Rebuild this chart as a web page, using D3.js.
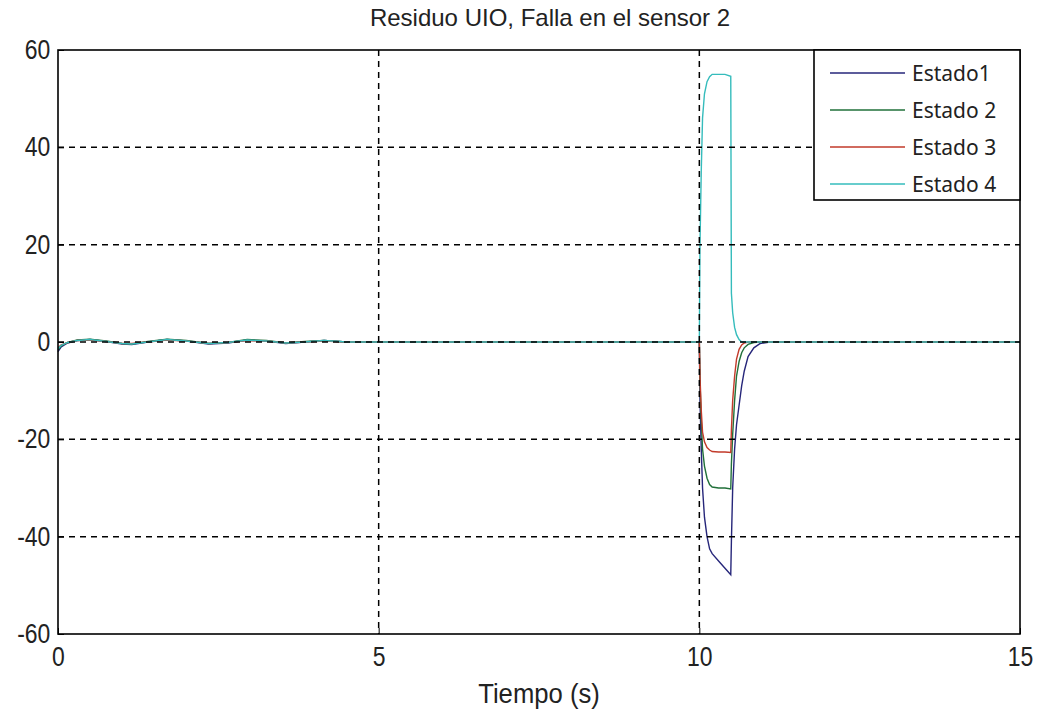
<!DOCTYPE html>
<html>
<head>
<meta charset="utf-8">
<script src="https://cdn.jsdelivr.net/npm/d3@7"></script>
<style>
  body { margin: 0; background: #fff; }
  svg { display: block; }
</style>
</head>
<body>
<div id="chart"></div>
<script>
// Residuo UIO
const tiempo = [0, 0.05, 0.15, 0.3, 0.5, 0.75, 1.0, 1.15, 1.4, 1.7, 2.0, 2.35, 2.65, 2.95, 3.25, 3.55, 3.85, 4.15, 4.5,
    5, 6, 7, 8, 9, 10.0, 10.01, 10.03, 10.05, 10.08, 10.12, 10.16, 10.2, 10.3, 10.4, 10.49, 10.5, 10.52, 10.55,
    10.58, 10.62, 10.66, 10.7, 10.76, 10.85, 10.95, 11.1, 12, 13, 14, 15];

const estado1 = [-2.0, -1.0, -0.2, 0.3, 0.5, 0.1, -0.4, -0.5, 0.0, 0.5, 0.2, -0.4, -0.2, 0.4, 0.2, -0.3, 0.0, 0.3, 0.0,
    0, 0, 0, 0, 0, 0, -12, -22, -30, -36, -40, -42.5, -43.5, -45, -46.5, -47.8, -41, -30, -22,
    -17, -13, -9, -6, -3, -1.2, -0.3, 0, 0, 0, 0, 0];

const estado2 = [-1.6, -0.8, -0.1, 0.4, 0.6, 0.2, -0.3, -0.4, 0.1, 0.6, 0.3, -0.3, -0.1, 0.5, 0.3, -0.2, 0.1, 0.3, 0.0,
    0, 0, 0, 0, 0, 0, -8, -16, -22, -25.5, -28, -29.3, -29.8, -30, -30, -30.2, -25, -19, -12,
    -7, -4, -2.2, -1.2, -0.5, -0.1, 0, 0, 0, 0, 0, 0];

const estado3 = [-1.2, -0.6, -0.1, 0.3, 0.4, 0.1, -0.3, -0.3, 0.0, 0.4, 0.2, -0.3, -0.1, 0.3, 0.2, -0.2, 0.0, 0.2, 0.0,
    0, 0, 0, 0, 0, 0, -7, -14, -18.5, -20.5, -21.7, -22.2, -22.5, -22.6, -22.6, -22.7, -18, -12, -7,
    -3.5, -1.5, -0.6, -0.2, 0, 0, 0, 0, 0, 0, 0, 0];

const estado4 = [-1.4, -0.7, -0.1, 0.3, 0.5, 0.1, -0.3, -0.4, 0.0, 0.5, 0.2, -0.3, -0.1, 0.4, 0.2, -0.2, 0.0, 0.3, 0.0,
    0, 0, 0, 0, 0, 0, 20, 35, 46, 51, 53.5, 54.5, 55, 55, 55, 54.6, 10, 6, 3,
    1.5, 0.5, 0, 0, 0, 0, 0, 0, 0, 0, 0, 0];

const nombres = ["Estado1", "Estado 2", "Estado 3", "Estado 4"];
const colores = ["#26267a", "#21703a", "#c23a2a", "#35bcbc"];
const xTicks = [0, 5, 10, 15];
const yTicks = [-60, -40, -20, 0, 20, 40, 60];

const width = 1038, height = 711;
const margin = {top: 50, right: 18, bottom: 77, left: 58};

const svg = d3.select("#chart").append("svg")
    .attr("width", width)
    .attr("height", height);

const x = d3.scaleLinear().domain([0, 15]).range([margin.left, width - margin.right]);
const y = d3.scaleLinear().domain([-60, 60]).range([height - margin.bottom, margin.top]);

const series = [estado1, estado2, estado3, estado4].map((vals, i) => ({
    name: nombres[i],
    color: colores[i],
    values: vals.map((v, j) => ({t: tiempo[j], v: v}))
}));

const line = d3.line()
    .x(d => x(d.t))
    .y(d => y(d.v));

// lineas de datos
svg.append("g")
    .selectAll("path")
    .data(series)
    .enter()
    .append("path")
        .attr("d", d => line(d.values))
        .attr("fill", "none")
        .attr("stroke", d => d.color)
        .attr("stroke-width", 1.4);

// grid punteado encima de los datos (como MATLAB)
const grid = svg.append("g");
grid.selectAll("line.gx")
    .data(xTicks.filter(t => t > 0 && t < 15))
    .enter()
    .append("line")
        .attr("x1", d => x(d)).attr("x2", d => x(d))
        .attr("y1", y(60)).attr("y2", y(-60))
        .attr("stroke", "#000")
        .attr("stroke-width", 1.5)
        .attr("stroke-dasharray", "6,5");
grid.selectAll("line.gy")
    .data(yTicks.filter(t => t > -60 && t < 60))
    .enter()
    .append("line")
        .attr("x1", x(0)).attr("x2", x(15))
        .attr("y1", d => y(d)).attr("y2", d => y(d))
        .attr("stroke", "#000")
        .attr("stroke-width", 1.5)
        .attr("stroke-dasharray", "6,5");

// ejes
const tickFont = "'Liberation Sans', Arial, sans-serif";
const fmt = d => String(d);

svg.append("g")
    .attr("transform", `translate(0,${y(-60)})`)
    .call(d3.axisBottom(x).tickValues(xTicks).tickFormat(fmt).tickSize(-6).tickPadding(13))
    .call(g => g.select(".domain").remove())
    .call(g => g.selectAll("line").attr("stroke", "#000"))
    .call(g => g.selectAll("text")
        .attr("fill", "#222")
        .style("font-family", tickFont)
        .style("font-size", "27px")
        .attr("transform", "scale(0.85,1)"));

svg.append("g")
    .attr("transform", `translate(${x(0)},0)`)
    .call(d3.axisLeft(y).tickValues(yTicks).tickFormat(fmt).tickSize(-6).tickPadding(9))
    .call(g => g.select(".domain").remove())
    .call(g => g.selectAll("line").attr("stroke", "#000"))
    .call(g => g.selectAll("text")
        .attr("fill", "#222")
        .style("font-family", tickFont)
        .style("font-size", "27px")
        .attr("transform", "scale(0.85,1)"));

// marco
svg.append("rect")
    .attr("x", x(0)).attr("y", y(60))
    .attr("width", x(15) - x(0))
    .attr("height", y(-60) - y(60))
    .attr("fill", "none")
    .attr("stroke", "#000")
    .attr("stroke-width", 1.6);

// titulo y etiqueta
svg.append("text")
    .attr("x", 550).attr("y", 26)
    .attr("text-anchor", "middle")
    .style("font-family", tickFont)
    .style("font-size", "24px")
    .attr("fill", "#222")
    .text("Residuo UIO, Falla en el sensor 2");

svg.append("g")
    .attr("transform", `translate(${(x(0) + x(15)) / 2},703) scale(0.95,1)`)
    .append("text")
    .attr("text-anchor", "middle")
    .style("font-family", tickFont)
    .style("font-size", "27px")
    .attr("fill", "#222")
    .text("Tiempo (s)");

// leyenda
const legend = svg.append("g").attr("transform", `translate(814,${y(60)})`);
legend.append("rect")
    .attr("width", x(15) - 814)
    .attr("height", 150)
    .attr("fill", "#fff")
    .attr("stroke", "#000")
    .attr("stroke-width", 1.6);

const item = legend.selectAll("g.item")
    .data(series)
    .enter()
    .append("g")
        .attr("transform", (d, i) => `translate(0,${23 + i * 37})`);
item.append("line")
    .attr("x1", 16).attr("x2", 91)
    .attr("stroke", d => d.color)
    .attr("stroke-width", 1.6);
item.append("text")
    .attr("x", 98).attr("y", 8)
    .style("font-family", "'Noto Sans', sans-serif")
    .style("font-size", "21px")
    .attr("fill", "#222")
    .text(d => d.name);
</script>
</body>
</html>
